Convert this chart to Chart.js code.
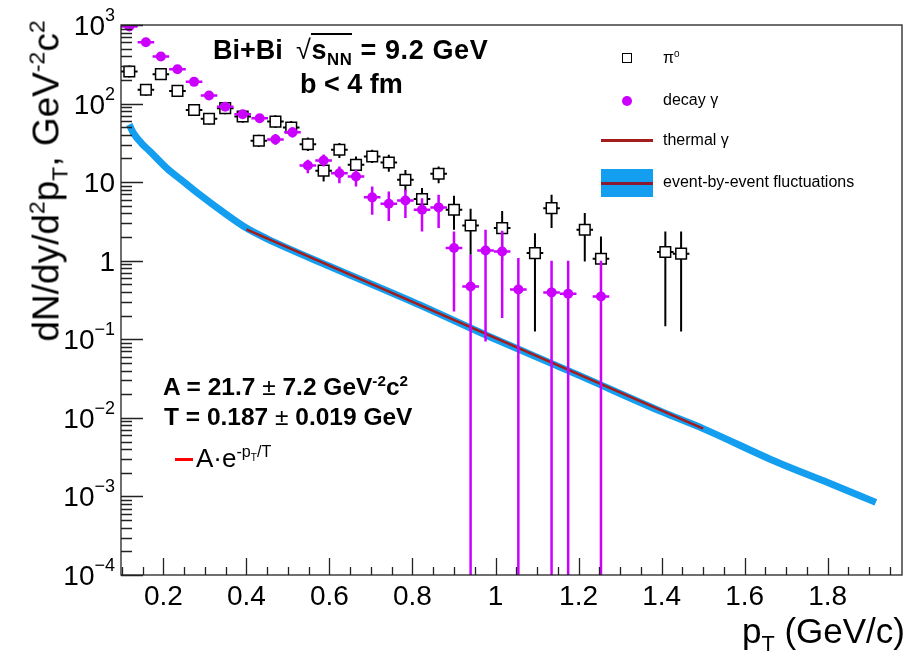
<!DOCTYPE html>
<html><head><meta charset="utf-8">
<script src="https://cdn.jsdelivr.net/npm/chart.js@4.4.0/dist/chart.umd.min.js"></script>
<style>
html,body{margin:0;padding:0;background:#fff;}
#wrap{position:relative;width:911px;height:662px;overflow:hidden;font-family:"Liberation Sans",Arial,Helvetica,sans-serif;}
canvas{position:absolute;left:0;top:0;}
.t{position:absolute;white-space:nowrap;line-height:1;color:#000;}
.b{font-weight:bold;}
sup,sub{font-size:62%;line-height:0;position:relative;vertical-align:baseline;}
sup{top:-0.62em;}
sub{top:0.38em;}
.sym{position:absolute;box-sizing:border-box;}
</style></head><body>
<div id="wrap">
<canvas id="c" width="911" height="662"></canvas>

<div class="t b" style="left:213px;top:37px;font-size:27px">Bi+Bi</div>
<div class="t b" style="left:296px;top:37px;font-size:27px;letter-spacing:0.6px"><span style="font-weight:normal">√</span><span style="border-top:2px solid #000;">s<sub>NN</sub></span> = 9.2 GeV</div>
<div class="t b" style="left:300px;top:71px;font-size:27px">b &lt; 4 fm</div>

<div class="t b" style="left:163px;top:375px;font-size:24.5px">A = 21.7 <span style="font-weight:normal">±</span> 7.2 GeV<sup>-2</sup>c<sup>2</sup></div>
<div class="t b" style="left:164px;top:405px;font-size:24.5px">T = 0.187 <span style="font-weight:normal">±</span> 0.019 GeV</div>
<div class="sym" style="left:175px;top:458px;width:18px;height:3px;background:#ff0000"></div>
<div class="t" style="left:196px;top:445px;font-size:26px">A·e<sup>-p<sub>T</sub>/T</sup></div>

<div class="sym" style="left:622px;top:53px;width:10px;height:10px;border:1.5px solid #000;background:#fff"></div>
<div class="t" style="left:663px;top:50px;font-size:16px">π<sup>0</sup></div>
<div class="sym" style="left:622px;top:96px;width:10px;height:10px;border-radius:50%;background:#cc00ff"></div>
<div class="t" style="left:663px;top:92px;font-size:16px">decay γ</div>
<div class="sym" style="left:601px;top:139px;width:52px;height:3px;background:#a51c1c"></div>
<div class="t" style="left:663px;top:132px;font-size:16px">thermal γ</div>
<div class="sym" style="left:601px;top:169px;width:52px;height:28px;background:#139ef0"></div>
<div class="sym" style="left:601px;top:182px;width:52px;height:3px;background:#8a1a30"></div>
<div class="t" style="left:663px;top:174px;font-size:16px">event-by-event fluctuations</div>

<div class="t" style="right:6px;top:613px;font-size:35px">p<sub>T</sub> (GeV/c)</div>
<div class="t" style="left:46px;top:181px;font-size:37px;transform:translate(-50%,-50%) rotate(-90deg)">dN/dy/d<sup>2</sup>p<sub>T</sub>, GeV<sup>-2</sup>c<sup>2</sup></div>
</div>

<script>
// ---------- data ----------
const pi0Pt  = [0.118,0.158,0.194,0.234,0.274,0.31,0.349,0.391,0.43,0.47,0.508,0.548,0.586,0.624,0.664,0.703,0.743,0.783,0.823,0.863,0.9,0.94,1.016,1.095,1.135,1.215,1.254,1.409,1.447];
const pi0Val = [256,150,237,145,83,64,87.5,68.5,33.6,59,49.7,30.4,14,25.8,16.6,21.2,17.8,10.7,6.1,12.8,4.46,2.81,2.6,1.25,4.67,2.48,1.06,1.29,1.23];
const pi0Lo  = [215,126,199,122,70,54,73,57,28,49,41,25,10.2,20.3,12.4,17.5,13.6,7.6,3.66,9.7,2.48,1.19,1.0,0.126,2.6,0.98,0.00001,0.146,0.126];
const pi0Hi  = [305,178,282,172,99,76,104,82,40,71,60,37,17.4,31.4,21.2,25.8,22.3,14.3,8.4,15.8,6.7,4.58,4.3,2.24,6.9,4.04,2.04,2.36,2.36];

const gamPt  = [0.118,0.158,0.194,0.234,0.274,0.31,0.349,0.391,0.432,0.47,0.511,0.548,0.586,0.624,0.664,0.703,0.743,0.783,0.823,0.863,0.9,0.94,0.976,1.016,1.055,1.135,1.175,1.254];
const gamVal = [960,604,398,274,189,127,91,73,65,35,43,16.3,18.9,13,11.8,6.4,5.3,5.85,4.46,4.77,1.45,0.47,1.35,1.31,0.43,0.395,0.38,0.35];
const gamLo  = [880,560,365,250,172,115,82,66,58,30,37,13,15.8,9.7,8.8,3.85,3.2,3.5,2.36,2.6,0.226,0.00001,0.094,0.186,0.00001,0.00001,0.00001,0.00001];
const gamHi  = [1040,650,435,300,207,140,101,81,73,41,50,19.3,22.4,15.8,14.4,8.8,7.6,8.0,6.26,6.9,2.36,1.19,2.48,2.4,1.08,1.0,1.0,1.0];
const binHalfWidth = 0.02;

const bandPt  = [0.118,0.128,0.148,0.168,0.208,0.248,0.288,0.34,0.4,0.45,0.6,0.8,1.0,1.2,1.4,1.5,1.68,1.8,1.916];
const bandVal = [54,42,31,24.6,15.1,10.2,6.9,4.3,2.6,1.9,0.85,0.30,0.10,0.035,0.012,0.0073,0.0027,0.0015,0.00084];

const thermPt  = [0.4,1.5];
const thermVal = [2.5,0.0073];

const xTickVals   = [0.2,0.4,0.6,0.8,1.0,1.2,1.4,1.6,1.8];
const xTickLabels = ['0.2','0.4','0.6','0.8','1','1.2','1.4','1.6','1.8'];
const yTickVals   = [1e3,1e2,1e1,1,1e-1,1e-2,1e-3,1e-4];
const yTickBase   = ['10','10','10','1','10','10','10','10'];
const yTickExp    = ['3','2','','','\u22121','\u22122','\u22123','\u22124'];

// ---------- helpers ----------
const pts = (xs, ys) => xs.map((x, i) => ({x, y: ys[i]}));

const rootPlugin = {
  id: 'rootStyle',
  beforeDatasetDraw(chart, args) {
    const ds = chart.data.datasets[args.index];
    if (!ds.errLo) return;
    const {ctx, chartArea: a, scales: {x, y}} = chart;
    ctx.save();
    ctx.beginPath(); ctx.rect(a.left, a.top, a.right - a.left, a.bottom - a.top); ctx.clip();
    ctx.strokeStyle = ds.errColor; ctx.lineWidth = ds.errWidth;
    ds.data.forEach((p, i) => {
      const px = x.getPixelForValue(p.x), py = y.getPixelForValue(p.y);
      const xl = x.getPixelForValue(p.x - ds.errX), xr = x.getPixelForValue(p.x + ds.errX);
      const yl = y.getPixelForValue(ds.errLo[i]), yh = y.getPixelForValue(ds.errHi[i]);
      ctx.beginPath();
      ctx.moveTo(xl, py); ctx.lineTo(xr, py);
      ctx.moveTo(px, yl); ctx.lineTo(px, yh);
      ctx.stroke();
    });
    ctx.restore();
  },
  afterDraw(chart) {
    const {ctx, chartArea: a, scales: {x, y}} = chart;
    ctx.save();
    ctx.strokeStyle = '#222'; ctx.lineWidth = 1.3;
    ctx.strokeRect(a.left, a.top, a.right - a.left, a.bottom - a.top);
    ctx.beginPath();
    for (let k = 2; k <= 39; k++) {
      const v = k * 0.05;
      if (v < x.min || v > x.max) continue;
      const px = Math.round(x.getPixelForValue(v)) + 0.5;
      const major = (k % 4 === 0);
      ctx.moveTo(px, a.bottom); ctx.lineTo(px, a.bottom - (major ? 17 : 8));
    }
    for (let e = -4; e <= 3; e++) {
      for (let m = 1; m <= 9; m++) {
        const v = m * Math.pow(10, e);
        if (v < y.min * 0.999 || v > y.max * 1.001) continue;
        const py = Math.round(y.getPixelForValue(v)) + 0.5;
        ctx.moveTo(a.left, py); ctx.lineTo(a.left + (m === 1 ? 22 : 11), py);
      }
    }
    ctx.stroke();
    ctx.fillStyle = '#000';
    ctx.font = '28px "Liberation Sans", Arial, sans-serif';
    ctx.textAlign = 'center'; ctx.textBaseline = 'alphabetic';
    xTickVals.forEach((v, i) => ctx.fillText(xTickLabels[i], x.getPixelForValue(v), 605));
    ctx.textAlign = 'left';
    yTickVals.forEach((v, i) => {
      const py = y.getPixelForValue(v);
      ctx.font = '28px "Liberation Sans", Arial, sans-serif';
      const wb = ctx.measureText(yTickBase[i]).width;
      ctx.font = '18px "Liberation Sans", Arial, sans-serif';
      const we = yTickExp[i] ? ctx.measureText(yTickExp[i]).width : 0;
      const x0 = 115 - wb - we;
      ctx.font = '28px "Liberation Sans", Arial, sans-serif';
      ctx.fillText(yTickBase[i], x0, py + 10);
      if (yTickExp[i]) {
        ctx.font = '18px "Liberation Sans", Arial, sans-serif';
        ctx.fillText(yTickExp[i], x0 + wb, py - 4);
      }
    });
    ctx.restore();
  }
};

new Chart(document.getElementById('c'), {
  type: 'scatter',
  data: {
    datasets: [
      { label: 'event-by-event fluctuations', data: pts(bandPt, bandVal), showLine: true,
        borderColor: '#139ef0', borderWidth: 7, pointRadius: 0, cubicInterpolationMode: 'monotone',
        borderCapStyle: 'butt', order: 4 },
      { label: 'thermal γ', data: pts(thermPt, thermVal), showLine: true,
        borderColor: '#a51c1c', borderWidth: 2.5, pointRadius: 0, order: 3 },
      { label: 'π0', data: pts(pi0Pt, pi0Val), pointStyle: 'rect', pointRadius: 7.5,
        backgroundColor: '#ffffff', borderColor: '#000000', pointBorderWidth: 1.5,
        errLo: pi0Lo, errHi: pi0Hi, errX: binHalfWidth, errColor: '#000', errWidth: 2, order: 2 },
      { label: 'decay γ', data: pts(gamPt, gamVal), pointStyle: 'circle', pointRadius: 5,
        backgroundColor: '#cc00ff', borderColor: '#cc00ff', pointBorderWidth: 0,
        errLo: gamLo, errHi: gamHi, errX: binHalfWidth, errColor: '#cc00ff', errWidth: 2.5, order: 1 }
    ]
  },
  options: {
    responsive: false, animation: false, devicePixelRatio: 1,
    layout: { padding: { left: 121, top: 25, right: 7, bottom: 87 } },
    plugins: { legend: { display: false }, tooltip: { enabled: false } },
    scales: {
      x: { type: 'linear', min: 0.098, max: 1.979, display: false },
      y: { type: 'logarithmic', min: 1e-4, max: 1e3, display: false }
    }
  },
  plugins: [rootPlugin]
});
</script>
</body></html>
